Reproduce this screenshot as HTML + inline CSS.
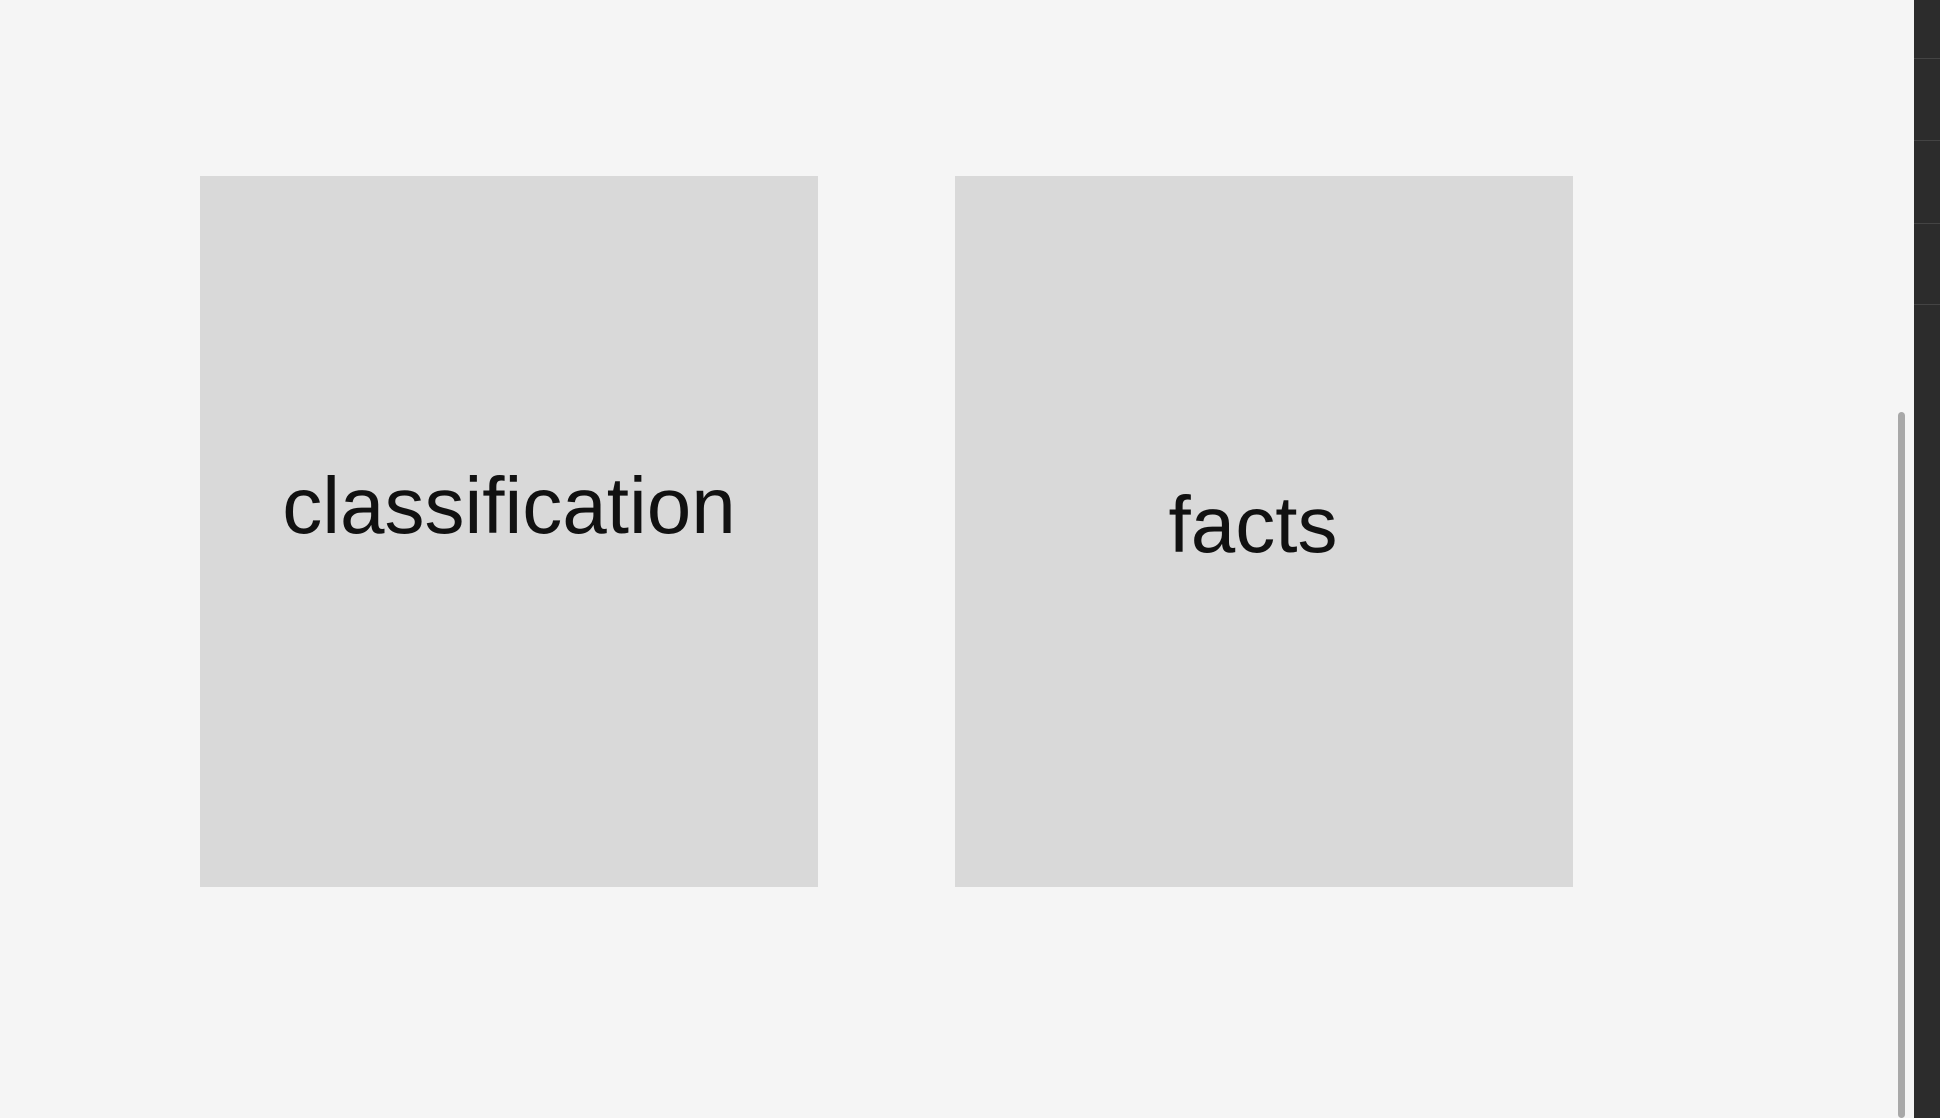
<!DOCTYPE html>
<html><head><meta charset="utf-8"><style>
html,body{margin:0;padding:0;width:1940px;height:1118px;overflow:hidden;background:#f5f5f5;font-family:"Liberation Sans",sans-serif;}
.card{position:absolute;top:176px;width:618px;height:711px;background:#d9d9d9;}
.lbl{position:absolute;left:0;width:100%;text-align:center;font-size:80px;color:#111;line-height:1;}
.strip{position:absolute;left:1914px;top:0;width:26px;height:1118px;background:#2c2c2c;}
.sep{position:absolute;left:1914px;width:26px;height:1px;background:#444;}
.sb{position:absolute;left:1898px;top:412px;width:7px;height:706px;background:#a8a8a8;border-radius:4px;}
</style></head><body>
<div class="card" style="left:200px"><div class="lbl" style="top:290px">classification</div></div>
<div class="card" style="left:955px"><div class="lbl" style="top:309px;left:-11px">facts</div></div>
<div class="sb"></div>
<div class="strip"></div>
<div class="sep" style="top:58px"></div>
<div class="sep" style="top:140px"></div>
<div class="sep" style="top:223px"></div>
<div class="sep" style="top:304px"></div>
</body></html>
